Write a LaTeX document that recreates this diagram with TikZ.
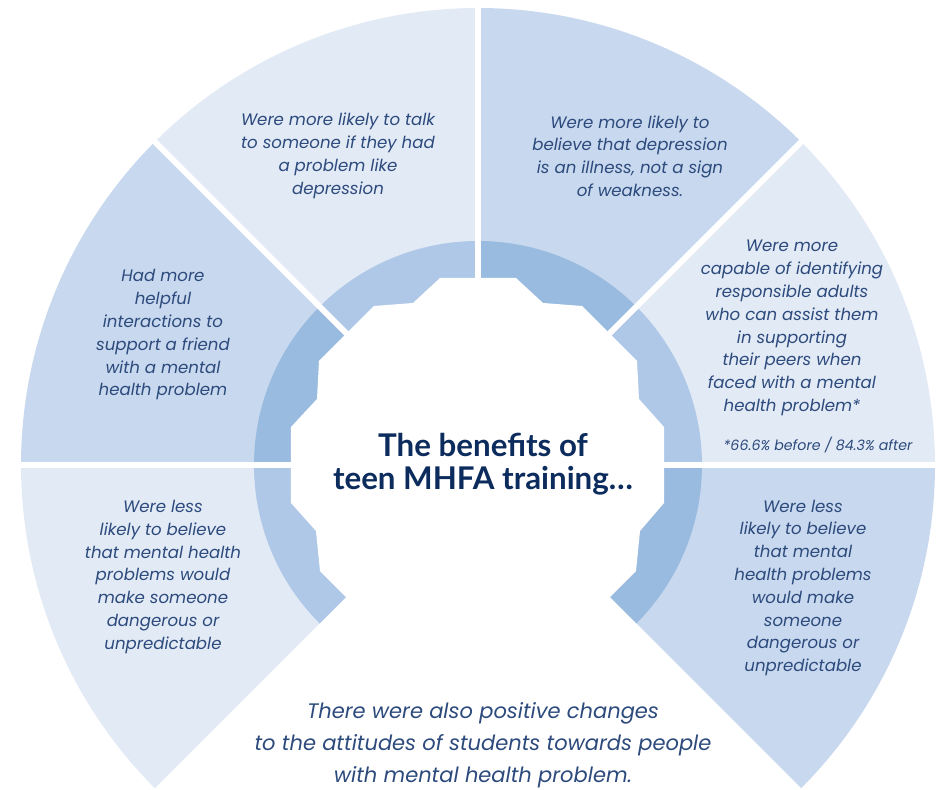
\documentclass[tikz,border=0pt]{standalone}
\usepackage{fontspec}
\setmainfont{Lato}
\newfontfamily\pfont{Poppins}
\definecolor{secpale}{HTML}{E2EAF6}
\definecolor{secmid}{HTML}{C8D8EE}
\definecolor{ringpale}{HTML}{AFC8E7}
\definecolor{ringdeep}{HTML}{9ABBE0}
\definecolor{bodyblue}{HTML}{2C4A7C}
\definecolor{titleblue}{HTML}{0D2C5E}
\tikzset{
  benefit/.style={align=center, text=bodyblue, inner sep=0pt,
    font=\pfont\fontsize{16.6}{22.8}\selectfont\itshape},
  footnote/.style={text=bodyblue, inner sep=0pt,
    font=\pfont\fontsize{14.2}{16}\selectfont\itshape},
  headline/.style={align=center, text=titleblue, inner sep=0pt,
    font=\fontsize{31.3}{33.5}\selectfont\bfseries},
  closing/.style={align=center, text=bodyblue, inner sep=0pt,
    font=\pfont\fontsize{21}{32}\selectfont\itshape},
  divider/.style={white, line width=6pt}
}
\begin{document}
\begin{tikzpicture}[x=1pt,y=1pt]
  \useasboundingbox (-478,-324) rectangle (458,465);

  % outer fan and inner ring
  \foreach \a/\sc/\rc in {180/secpale/ringpale, 135/secmid/ringdeep, 90/secpale/ringpale,
                          45/secmid/ringdeep, 0/secpale/ringpale, -45/secmid/ringdeep} {
    \fill[\sc] (0,0) -- (\a:457) arc[start angle=\a, end angle=\a+45, radius=457] -- cycle;
    \fill[\rc] (0,0) -- (\a:224) arc[start angle=\a, end angle=\a+45, radius=224] -- cycle;
  }
  \coordinate (hub) at (0,0);
  \foreach \a in {0,45,90,135,180}
    \draw[divider] (hub) -- (\a:462);

  % white cog in the middle
  \fill[white] (-38,187) -- (38,187) -- (65,162) -- (104,159) -- (159,104) -- (161,66)
    -- (186,38) -- (186,-38) -- (162,-66) -- (158,-106) -- (131,-133)
    -- (-131,-133) -- (-158,-106) -- (-162,-66) -- (-187,-38) -- (-187,38)
    -- (-161,66) -- (-159,104) -- (-104,159) -- (-65,162) -- cycle;

  \node[benefit] (talk) at (-140,309) {Were more likely to talk\\to someone if they had\\a problem like\\depression};
  \node[benefit] (illness) at (152,309) {Were more likely to\\believe that depression\\is an illness, not a sign\\of weakness.};
  \node[benefit] (helpful) at (-315,130) {Had more\\helpful\\interactions to\\support a friend\\with a mental\\health problem};
  \node[benefit] (adults) at (314,137) {Were more\\capable of identifying\\responsible adults\\who can assist them\\in supporting\\their peers when\\faced with a mental\\health problem*};
  \node[footnote] (note) at (340,20) {*66.6\% before / 84.3\% after};
  \node[benefit] (lessleft) at (-315,-112) {Were less\\likely to believe\\that mental health\\problems would\\make someone\\dangerous or\\unpredictable};
  \node[benefit] (lessright) at (325,-123) {Were less\\likely to believe\\that mental\\health problems\\would make\\someone\\dangerous or\\unpredictable};
  \node[headline] (title) at (5,1) {The benefits of\\teen MHFA training…};
  \node[closing] (summary) at (5,-280) {There were also positive changes\\to the attitudes of students towards people\\with mental health problem.};
\end{tikzpicture}
\end{document}
